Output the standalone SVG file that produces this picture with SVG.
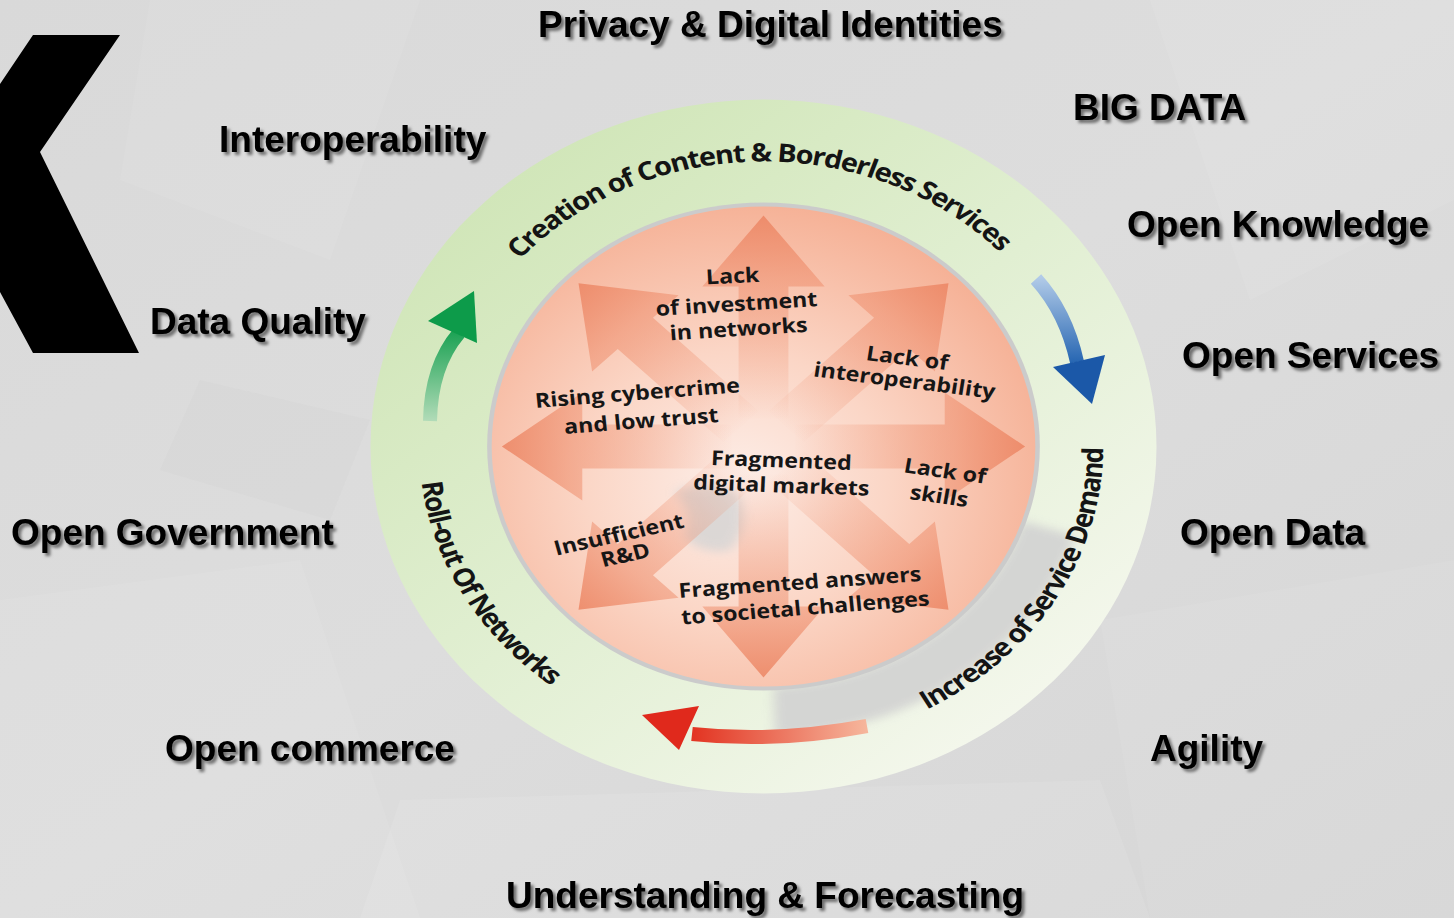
<svg xmlns="http://www.w3.org/2000/svg" width="1454" height="918" viewBox="0 0 1454 918">
<defs>
  <style>
    .lbl { font-family: "Liberation Sans", Arial, sans-serif; font-weight: 700; font-size: 37px; fill: #000; }
    .ring { font-family: "Open Sans", "Liberation Sans", sans-serif; font-weight: 700; font-size: 25.5px; fill: #141414; }
    .in { font-family: "Open Sans", "Liberation Sans", sans-serif; font-weight: 700; font-size: 20.5px; fill: #161616; text-anchor: middle; }
  </style>
  <linearGradient id="bg" x1="0" y1="0" x2="1" y2="1">
    <stop offset="0" stop-color="#d9d9d9"/>
    <stop offset="0.5" stop-color="#dddddd"/>
    <stop offset="1" stop-color="#d6d6d6"/>
  </linearGradient>
  <filter id="shadow" x="-5%" y="-30%" width="115%" height="170%">
    <feDropShadow dx="3" dy="3" stdDeviation="1.6" flood-color="#000" flood-opacity="0.5"/>
  </filter>
  <filter id="soft" x="-20%" y="-20%" width="140%" height="140%">
    <feGaussianBlur stdDeviation="5"/>
  </filter>
  <linearGradient id="ringG" x1="0.1" y1="0.1" x2="0.85" y2="0.95">
    <stop offset="0" stop-color="#cfe5b6"/>
    <stop offset="0.5" stop-color="#e1efd2"/>
    <stop offset="1" stop-color="#f6f8ef"/>
  </linearGradient>
  <radialGradient id="discG" cx="0.45" cy="0.58" r="0.62">
    <stop offset="0" stop-color="#fdeee8"/>
    <stop offset="0.45" stop-color="#fbd6c6"/>
    <stop offset="1" stop-color="#f5ae92"/>
  </radialGradient>
  <linearGradient id="arrowG" gradientUnits="userSpaceOnUse" x1="25" y1="0" x2="231" y2="0">
    <stop offset="0" stop-color="#ee8c6a" stop-opacity="0"/>
    <stop offset="0.35" stop-color="#ee8c6a" stop-opacity="0.28"/>
    <stop offset="0.7" stop-color="#ee8c6a" stop-opacity="0.55"/>
    <stop offset="1" stop-color="#ec8563" stop-opacity="0.85"/>
  </linearGradient>
  <path id="starArrow" d="M28,-22 L160,-22 L160,-54 L231,0 L160,54 L160,22 L28,22 Z"/>
  <linearGradient id="greenG" gradientUnits="userSpaceOnUse" x1="0" y1="422" x2="0" y2="330">
    <stop offset="0" stop-color="#b3dcb9"/>
    <stop offset="1" stop-color="#19a152"/>
  </linearGradient>
  <linearGradient id="blueG" gradientUnits="userSpaceOnUse" x1="0" y1="277" x2="0" y2="366">
    <stop offset="0" stop-color="#b2cbe8"/>
    <stop offset="1" stop-color="#2162b0"/>
  </linearGradient>
  <linearGradient id="redG" gradientUnits="userSpaceOnUse" x1="868" y1="0" x2="688" y2="0">
    <stop offset="0" stop-color="#f6b79d"/>
    <stop offset="1" stop-color="#e2311f"/>
  </linearGradient>
  <path id="pTop" d="M-215.1,-187 A285,285 0 0 1 210.5,-192.2"/>
  <path id="pLeft" d="M-301.9,36 A304,304 0 0 0 -185.5,240.9"/>
  <path id="pRight" d="M144.1,263.1 A300,300 0 0 0 300,-1.6"/>
</defs>

<!-- background -->
<g id="background">
  <rect x="0" y="0" width="1454" height="918" fill="url(#bg)"/>
  <polygon points="150,0 420,0 330,260 120,180" fill="#ffffff" opacity="0.07"/>
  <polygon points="1150,0 1454,0 1454,200 1250,300" fill="#ffffff" opacity="0.08"/>
  <polygon points="0,600 300,560 420,918 0,918" fill="#ffffff" opacity="0.07"/>
  <polygon points="1100,620 1454,560 1454,918 1150,918" fill="#ffffff" opacity="0.06"/>
  <polygon points="400,800 1100,780 1150,918 360,918" fill="#ffffff" opacity="0.09"/>
  <polygon points="200,380 370,420 330,520 160,470" fill="#c8c8c8" opacity="0.15"/>
</g>

<!-- black chevron -->
<g id="chevron">
  <polygon points="0,84 33,35 120,35 40,152 139,353 33,353 0,292" fill="#000"/>
</g>

<!-- central cycle diagram (drawn in circle space, stretched horizontally) -->
<g id="cycle" transform="translate(763.5,446.5) scale(1.1326,1)">
  <g id="ring">
    <circle cx="0" cy="0" r="347" fill="url(#ringG)"/>
    <path d="M228.2,74.2 A240,240 0 0 1 8.4,239.9 L10.2,289.8 A290,290 0 0 0 275.8,89.6 Z" fill="#d2d2d2" filter="url(#soft)" opacity="0.9"/>
  </g>
  <g id="disc">
    <circle cx="0" cy="0" r="244" fill="#cbcbcb"/>
    <circle cx="0" cy="0" r="240" fill="url(#discG)"/>
    <path d="M-78,45 Q-40,30 -22,48 Q-10,80 -30,104 Q-55,108 -70,90 Q-60,70 -78,45 Z" fill="#d4d4d4" opacity="0.8" filter="url(#soft)"/>
    <g id="star" fill="url(#arrowG)">
      <use href="#starArrow" transform="rotate(0)"/>
      <use href="#starArrow" transform="rotate(45)"/>
      <use href="#starArrow" transform="rotate(90)"/>
      <use href="#starArrow" transform="rotate(135)"/>
      <use href="#starArrow" transform="rotate(180)"/>
      <use href="#starArrow" transform="rotate(225)"/>
      <use href="#starArrow" transform="rotate(270)"/>
      <use href="#starArrow" transform="rotate(315)"/>
    </g>
  </g>
  <g id="ring-texts">
    <text class="ring"><textPath href="#pTop" textLength="478" lengthAdjust="spacing">Creation of Content &amp; Borderless Services</textPath></text>
    <text class="ring"><textPath href="#pLeft" textLength="240" lengthAdjust="spacing">Roll-out Of Networks</textPath></text>
    <text class="ring"><textPath href="#pRight" textLength="320" lengthAdjust="spacing">Increase of Service Demand</textPath></text>
  </g>
  <g id="node-investment">
    <text class="in" x="-26.9" y="-163.5" transform="rotate(-3 -26.9 -163.5)">Lack</text>
    <text class="in" x="-23.4" y="-135.5" transform="rotate(-4 -23.4 -135.5)">of investment</text>
    <text class="in" x="-21.6" y="-110.5" transform="rotate(-4 -21.6 -110.5)">in networks</text>
  </g>
  <g id="node-cybercrime">
    <text class="in" x="-110.8" y="-46.5" transform="rotate(-5 -110.8 -46.5)">Rising cybercrime</text>
    <text class="in" x="-107.3" y="-18.5" transform="rotate(-5 -107.3 -18.5)">and low trust</text>
  </g>
  <g id="node-interoperability">
    <text class="in" x="126" y="-81.5" transform="rotate(8 126 -81.5)">Lack of</text>
    <text class="in" x="123.6" y="-59" transform="rotate(8 123.6 -59)">interoperability</text>
  </g>
  <g id="node-skills">
    <text class="in" x="159.3" y="31.5" transform="rotate(9 159.3 31.5)">Lack of</text>
    <text class="in" x="154" y="56.5" transform="rotate(9 154 56.5)">skills</text>
  </g>
  <g id="node-markets">
    <text class="in" x="15.5" y="21" transform="rotate(2.3 15.5 21)">Fragmented</text>
    <text class="in" x="15.5" y="46" transform="rotate(2.3 15.5 46)">digital markets</text>
  </g>
  <g id="node-rd">
    <text class="in" x="-126" y="95" transform="rotate(-14 -126 95)">Insufficient</text>
    <text class="in" x="-120.3" y="115.5" transform="rotate(-14 -120.3 115.5)">R&amp;D</text>
  </g>
  <g id="node-societal">
    <text class="in" x="32.7" y="143" transform="rotate(-4.5 32.7 143)">Fragmented answers</text>
    <text class="in" x="37.5" y="168.5" transform="rotate(-5 37.5 168.5)">to societal challenges</text>
  </g>
</g>

<!-- cycle arrows -->
<g id="connectors">
  <g id="arrow-green">
    <path d="M430,421 Q431,366 459,333" fill="none" stroke="url(#greenG)" stroke-width="14"/>
    <polygon points="428,321 474,291 477,343" fill="#0d9b4a"/>
  </g>
  <g id="arrow-blue">
    <path d="M1036,279 Q1066,312 1077,362" fill="none" stroke="url(#blueG)" stroke-width="14"/>
    <polygon points="1053,367 1105,355 1092,404" fill="#1b58a8"/>
  </g>
  <g id="arrow-red">
    <path d="M867,726 Q776,743 692,734" fill="none" stroke="url(#redG)" stroke-width="14"/>
    <polygon points="642,715 699,706 679,750" fill="#e0291c"/>
  </g>
</g>

<!-- outer labels -->
<g id="labels" filter="url(#shadow)">
  <text id="lbl-privacy" class="lbl" x="538" y="37">Privacy &amp; Digital Identities</text>
  <text id="lbl-bigdata" class="lbl" x="1073" y="120">BIG DATA</text>
  <text id="lbl-interop" class="lbl" x="219" y="152">Interoperability</text>
  <text id="lbl-knowledge" class="lbl" x="1127" y="237">Open Knowledge</text>
  <text id="lbl-quality" class="lbl" x="150" y="334">Data Quality</text>
  <text id="lbl-services" class="lbl" x="1182" y="368">Open Services</text>
  <text id="lbl-government" class="lbl" x="11" y="545">Open Government</text>
  <text id="lbl-opendata" class="lbl" x="1180" y="545">Open Data</text>
  <text id="lbl-commerce" class="lbl" x="165" y="761">Open commerce</text>
  <text id="lbl-agility" class="lbl" x="1150" y="761">Agility</text>
  <text id="lbl-forecast" class="lbl" x="506" y="908">Understanding &amp; Forecasting</text>
</g>
</svg>
